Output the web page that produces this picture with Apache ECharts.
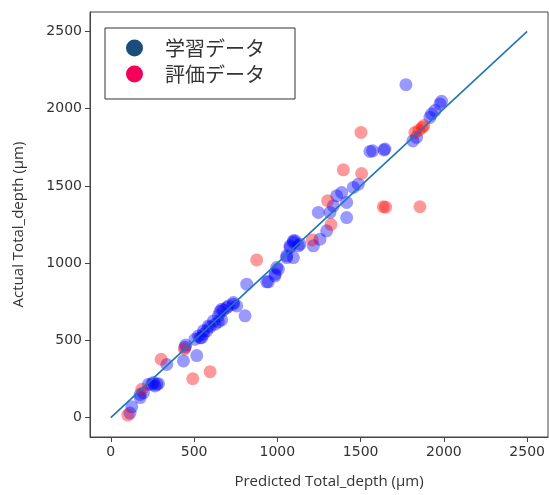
<!DOCTYPE html>
<html>
<head>
    <meta charset="utf-8">
    <title>Predicted vs Actual</title>
    <script src="https://cdn.jsdelivr.net/npm/echarts@6/dist/echarts.min.js"></script>
</head>
<body style="margin:0;background:#fff">
    <div id="main" style="width:549px;height:495px"></div>
<script type="text/javascript">
    // [predicted, actual]
    var trainData = [
        [115, 30], [126, 70], [176, 130], [176, 150], [196, 162], [226, 216], [246, 216], [256, 227],
        [276, 216], [286, 220], [265, 205], [336, 344], [436, 367], [446, 455], [450, 470], [516, 402],
        [506, 508], [526, 529], [536, 518], [546, 518], [556, 540], [556, 562], [576, 562], [586, 594],
        [596, 587], [616, 626], [626, 605], [646, 620], [646, 659], [666, 633], [656, 687], [666, 702],
        [676, 696], [696, 712], [706, 723], [736, 734], [736, 745], [756, 723], [806, 659], [816, 864],
        [936, 879], [946, 879], [986, 918], [986, 929], [996, 971], [1006, 961], [1056, 1036], [1056, 1047],
        [1076, 1101], [1076, 1112], [1096, 1036], [1096, 1134], [1096, 1145], [1106, 1145], [1126, 1112],
        [1136, 1123], [1216, 1112], [1256, 1155], [1246, 1328], [1296, 1209], [1316, 1328], [1336, 1371],
        [1356, 1436], [1386, 1457], [1416, 1295], [1416, 1393], [1456, 1490], [1486, 1511], [1556, 1723],
        [1572, 1727], [1640, 1732], [1646, 1738], [1772, 2155], [1814, 1791], [1836, 1814], [1916, 1943],
        [1926, 1965], [1946, 1987], [1976, 2030], [1986, 2047]
    ];
    var testData = [
        [102, 17], [186, 184], [302, 378], [442, 443], [492, 252], [596, 298], [876, 1021], [1210, 1150],
        [1302, 1404], [1322, 1250], [1396, 1604], [1502, 1846], [1506, 1580], [1636, 1365], [1650, 1362],
        [1856, 1365], [1826, 1846], [1850, 1860], [1870, 1878], [1880, 1890]
    ];
    var idealLine = [[0, 0], [2500, 2500]];
    var tickValues = [0, 500, 1000, 1500, 2000, 2500];
    var legendNames = ['学習データ', '評価データ'];

    var myChart = echarts.init(document.getElementById('main'));

    var axisCommon = {
        type: 'value',
        min: -125,
        max: 2625,
        nameLocation: 'middle',
        nameTextStyle: { fontSize: 15, color: '#333', fontFamily: 'Open Sans' },
        axisLine: { show: true, onZero: false, lineStyle: { color: '#444', width: 1 } },
        axisTick: { show: true, inside: false, length: 5, customValues: tickValues, lineStyle: { color: '#444' } },
        axisLabel: {
            customValues: tickValues,
            fontSize: 14,
            color: '#333',
            fontFamily: 'DejaVu Sans',
            margin: 8,
            formatter: function (v) { return String(v); }
        },
        splitLine: { show: false }
    };

    var option = {
        backgroundColor: '#fff',
        animation: false,
        grid: {
            left: 90, right: 1, top: 12, bottom: 58,
            show: true, borderColor: '#444', borderWidth: 1, backgroundColor: '#fff'
        },
        legend: {
            data: [
                { name: legendNames[0], itemStyle: { color: '#1b4d7c', opacity: 1 } },
                { name: legendNames[1], itemStyle: { color: '#f2005a', opacity: 1 } }
            ],
            orient: 'vertical',
            left: 105,
            top: 28,
            icon: 'circle',
            itemWidth: 17,
            itemHeight: 17,
            itemGap: 6,
            padding: [10, 30, 15, 21],
            borderColor: '#333',
            borderWidth: 1,
            backgroundColor: '#fff',
            textStyle: { fontSize: 20, color: '#333', fontFamily: 'Noto Sans CJK JP', padding: [0, 0, 0, 17] }
        },
        xAxis: Object.assign({}, axisCommon, {
            name: 'Predicted Total_depth (µm)',
            nameGap: 37,
            nameTextStyle: Object.assign({}, axisCommon.nameTextStyle, { padding: [0, 0, 0, 20] })
        }),
        yAxis: Object.assign({}, axisCommon, {
            name: 'Actual Total_depth (µm)',
            nameGap: 64
        }),
        series: [
            {
                name: legendNames[0],
                type: 'scatter',
                data: trainData,
                symbolSize: 13,
                itemStyle: { color: 'rgba(0,0,255,0.5)' },
                z: 2
            },
            {
                name: legendNames[1],
                type: 'scatter',
                data: testData,
                symbolSize: 13,
                itemStyle: { color: 'rgba(255,0,0,0.5)' },
                z: 3
            },
            {
                name: 'ideal',
                type: 'line',
                data: idealLine,
                symbol: 'none',
                lineStyle: { color: '#1f77b4', width: 1.6 },
                z: 4
            }
        ]
    };

    myChart.setOption(option);
</script>
</body>
</html>
